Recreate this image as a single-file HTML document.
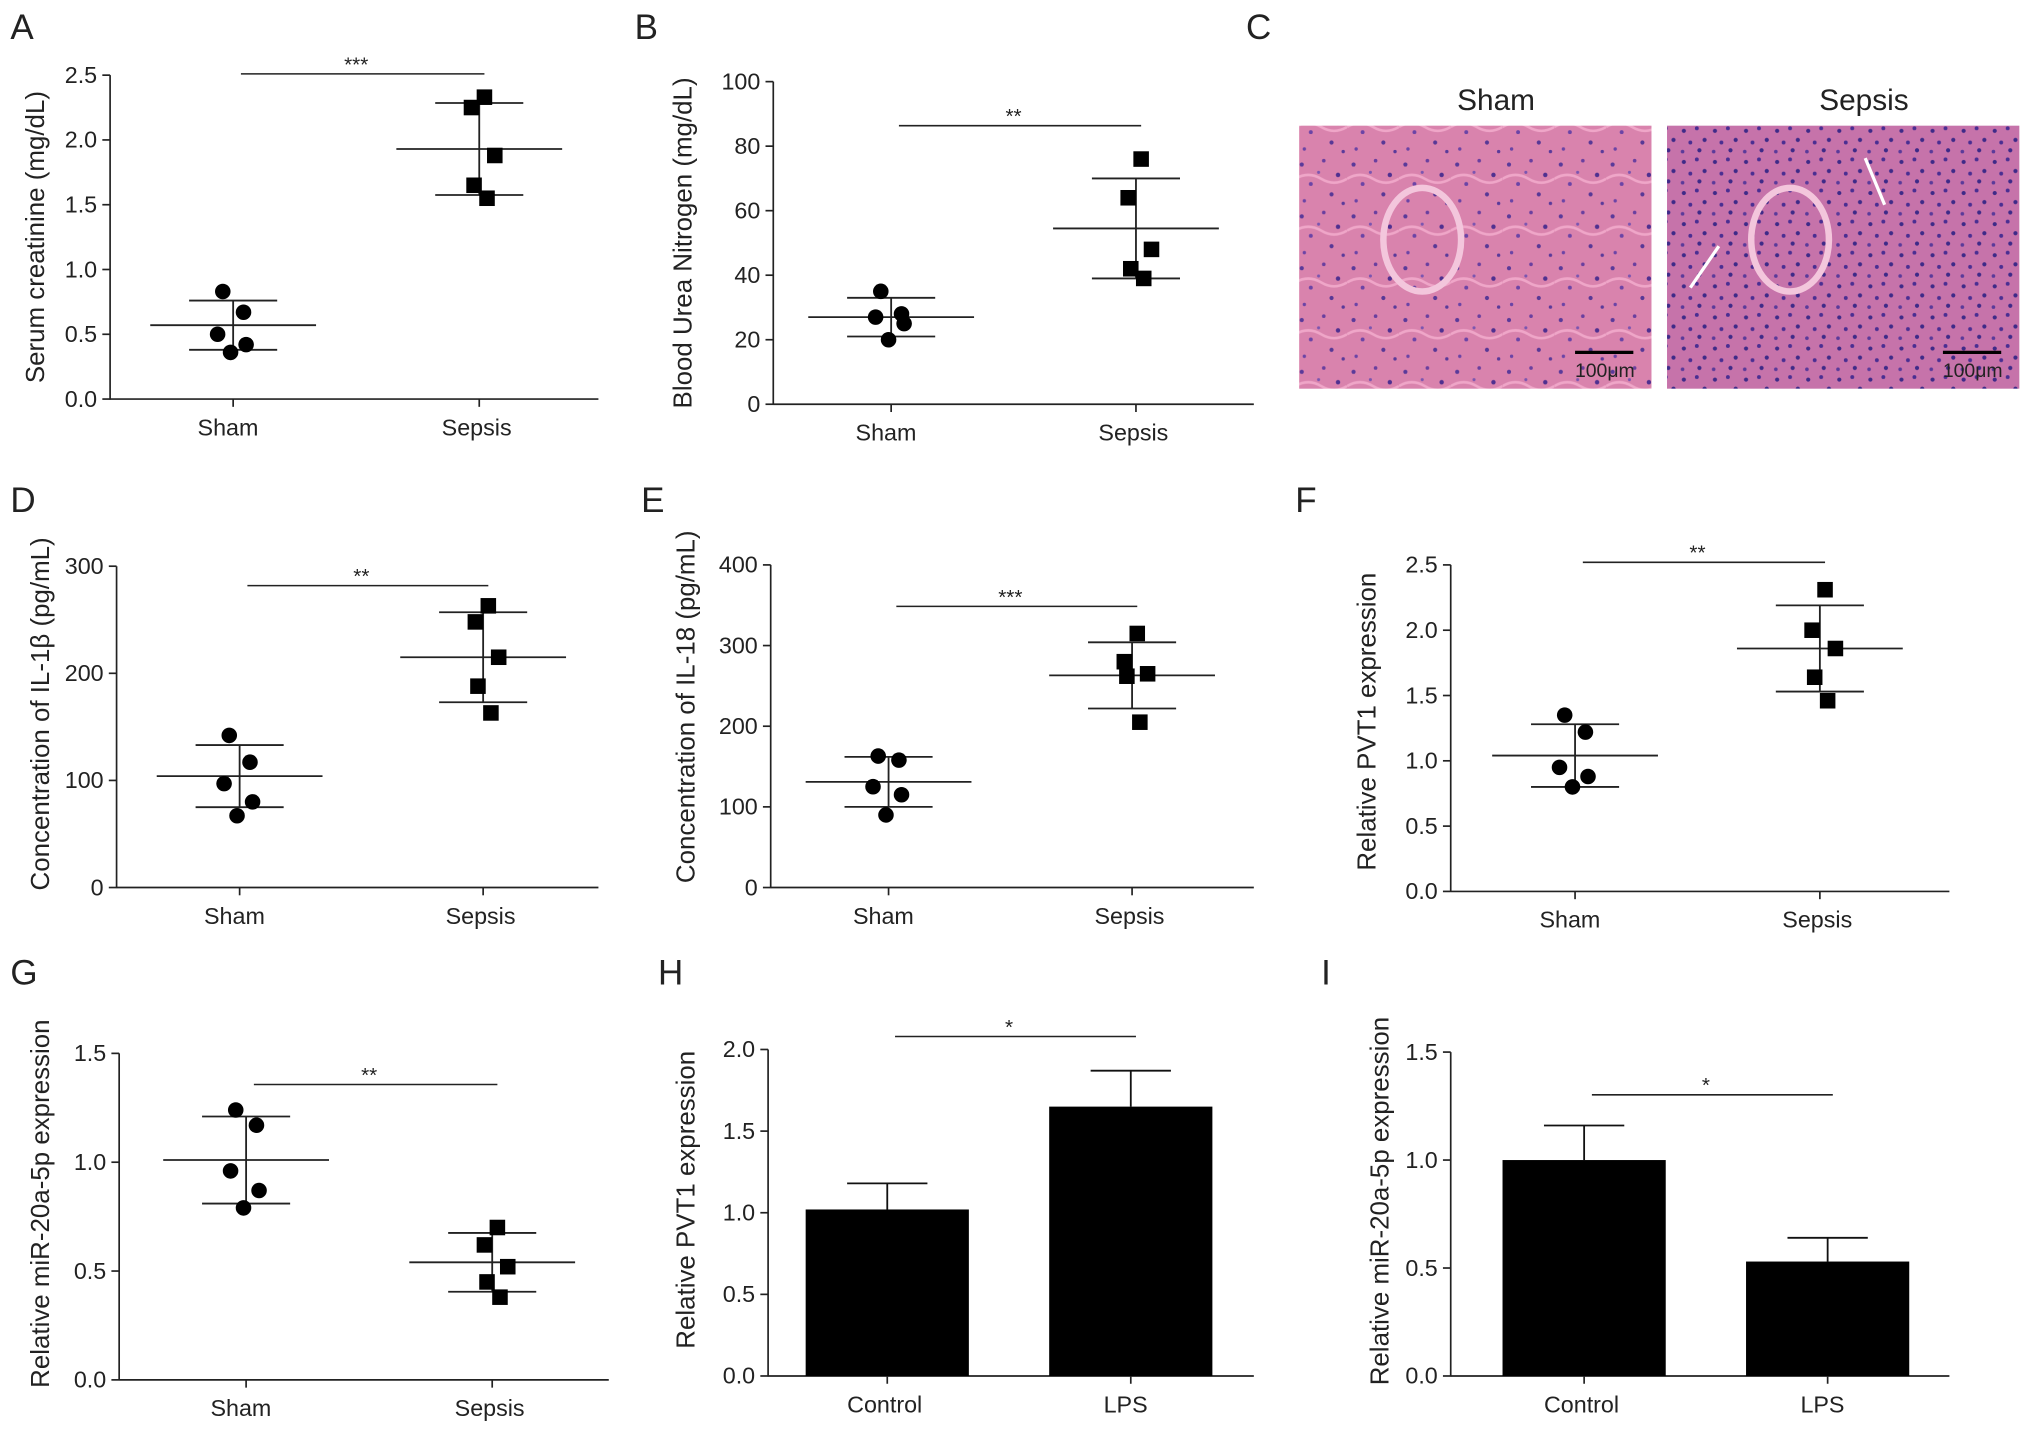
<!DOCTYPE html>
<html><head><meta charset="utf-8"><style>
body{margin:0;background:#fff}
svg{display:block}
text{font-family:"Liberation Sans",sans-serif;fill:#222}
</style></head><body>
<svg id="fig" width="2031" height="1433" viewBox="0 0 1568 1106" preserveAspectRatio="none" xmlns="http://www.w3.org/2000/svg">
<defs>
<pattern id="tissue" width="40" height="40" patternUnits="userSpaceOnUse">
<rect width="40" height="40" fill="#d983ad"/>
<circle cx="5" cy="7" r="1.6" fill="#5a3a9a"/><circle cx="22" cy="4" r="1.4" fill="#6a3f9f"/>
<circle cx="33" cy="15" r="1.7" fill="#4f3090"/><circle cx="12" cy="22" r="1.5" fill="#6b44a6"/>
<circle cx="28" cy="30" r="1.6" fill="#583896"/><circle cx="7" cy="35" r="1.3" fill="#6b44a6"/>
<circle cx="18" cy="13" r="1.2" fill="#7b55b0"/><circle cx="37" cy="37" r="1.3" fill="#5a3a9a"/>
<path d="M0 18 Q10 12 20 18 T40 18" stroke="#efa6c8" stroke-width="2" fill="none"/>
</pattern>
<pattern id="tissue2" width="24" height="24" patternUnits="userSpaceOnUse">
<rect width="24" height="24" fill="#c673aa"/>
<circle cx="4" cy="5" r="1.6" fill="#3e2a88"/><circle cx="14" cy="3" r="1.5" fill="#4a2e92"/>
<circle cx="20" cy="12" r="1.6" fill="#3e2a88"/><circle cx="9" cy="14" r="1.5" fill="#4a2e92"/>
<circle cx="16" cy="20" r="1.6" fill="#3e2a88"/><circle cx="3" cy="21" r="1.4" fill="#5a3a9a"/>
</pattern>
</defs>
<g id="root"></g>
</svg>
<script>
// ---- data ----
const groupsDots=["Sham","Sepsis"];
const groupsBars=["Control","LPS"];
const aSham=[0.83,0.67,0.50,0.42,0.36], aSepsis=[2.33,2.25,1.88,1.65,1.55];
const aMean=[0.57,1.93], aSD=[0.19,0.355];
const bSham=[35,28,27,25,20], bSepsis=[76,64,48,42,39];
const bMean=[27,54.5], bSD=[6,15.5];
const dSham=[142,117,97,80,67], dSepsis=[263,248,215,188,163];
const dMean=[104,215], dSD=[29,42];
const eSham=[163,158,125,115,90], eSepsis=[315,280,265,262,205];
const eMean=[131,263], eSD=[31,41];
const fSham=[1.35,1.22,0.95,0.88,0.80], fSepsis=[2.31,2.00,1.86,1.64,1.46];
const fMean=[1.04,1.86], fSD=[0.24,0.33];
const gSham=[1.24,1.17,0.96,0.87,0.79], gSepsis=[0.70,0.62,0.52,0.45,0.38];
const gMean=[1.01,0.54], gSD=[0.20,0.135];
const hValues=[1.02,1.65], hErr=[0.16,0.22];
const iValues=[1.00,0.53], iErr=[0.16,0.11];
const ticksA=["0.0","0.5","1.0","1.5","2.0","2.5"];
const ticksB=["0","20","40","60","80","100"];
const ticksD=["0","100","200","300"];
const ticksE=["0","100","200","300","400"];
const ticksF=["0.0","0.5","1.0","1.5","2.0","2.5"];
const ticksG=["0.0","0.5","1.0","1.5"];
const ticksH=["0.0","0.5","1.0","1.5","2.0"];
const ticksI=["0.0","0.5","1.0","1.5"];

const NS="http://www.w3.org/2000/svg";
const root=document.getElementById('root');
function el(tag,attrs,parent,txt){const e=document.createElementNS(NS,tag);for(const k in attrs)e.setAttribute(k,attrs[k]);if(txt!==undefined)e.textContent=txt;(parent||root).appendChild(e);return e;}
const jitter=[[-8,8,-12,10,-2],[4,-6,12,-4,6]];

function axes(g,cfg,ticks){
  const max=parseFloat(ticks[ticks.length-1]);
  const y=v=>cfg.y0-(v/max)*(cfg.y0-cfg.y1);
  const ax=el('g',{},g);
  
  
  el('line',{x1:cfg.x0,y1:cfg.y1,x2:cfg.x0,y2:cfg.y0+0.5,stroke:'#222','stroke-width':1.3},ax);
  ticks.forEach(t=>{const yy=y(parseFloat(t));
    el('line',{x1:cfg.x0-6,y1:yy,x2:cfg.x0,y2:yy,stroke:'#222','stroke-width':1.3},ax);
    const tl=el('text',{x:cfg.x0-10,y:yy+6,'text-anchor':'end','font-size':18},ax,t);
    
    
  });
  const xa=el('line',{x1:cfg.x0,y1:cfg.y0,x2:cfg.x2,y2:cfg.y0,stroke:'#222','stroke-width':1.3},g);
  
  
  const t=el('text',{transform:`translate(${cfg.tx-6},${(cfg.y0+cfg.y1)/2+cfg.toff}) rotate(-90)`,'text-anchor':'middle','font-size':20},g,cfg.title);
  
  
  const L=el('text',{x:cfg.lx,y:cfg.ly,'font-size':27},g,cfg.letter);
  
  
  return y;
}
function cats(g,cfg,names){
  names.forEach((n,i)=>{
    el('line',{x1:cfg.cx[i],y1:cfg.y0,x2:cfg.cx[i],y2:cfg.y0+6,stroke:'#222','stroke-width':1.3},g);
    const t=el('text',{x:cfg.cx[i]-(n.length>5?2:4),y:cfg.y0+28,'text-anchor':'middle','font-size':18},g,n);
    
    
  });
}
function sig(g,cfg,y,s){
  const l=el('line',{x1:cfg.cx[0]+6,y1:y,x2:cfg.cx[1]+4,y2:y,stroke:'#222','stroke-width':1.2},g);
  
  
  const t=el('text',{x:(cfg.cx[0]+cfg.cx[1])/2,y:y-2,'text-anchor':'middle','font-size':16},g,s);
  
  
}
function dotPanel(name,cfg,ticks,sham,sepsis,mean,sd,sigY,stars){
  const g=el('g',{});
  
  
  const y=axes(g,cfg,ticks);
  cats(g,cfg,groupsDots);
  [sham,sepsis].forEach((arr,gi)=>{
    const cx=cfg.cx[gi];
    const m=el('line',{x1:cx-64,y1:y(mean[gi]),x2:cx+64,y2:y(mean[gi]),stroke:'#222','stroke-width':1.4},g);
    
    
    [mean[gi]-sd[gi],mean[gi]+sd[gi]].forEach(v=>el('line',{x1:cx-34,y1:y(v),x2:cx+34,y2:y(v),stroke:'#222','stroke-width':1.4},g));
    el('line',{x1:cx,y1:y(mean[gi]-sd[gi]),x2:cx,y2:y(mean[gi]+sd[gi]),stroke:'#222','stroke-width':1.4},g);
    arr.forEach((v,i)=>{
      const px=cx+jitter[gi][i];
      let p;
      if(gi===0)p=el('circle',{cx:px,cy:y(v),r:6,fill:'#000'},g);
      else p=el('rect',{x:px-6,y:y(v)-6,width:12,height:12,fill:'#000'},g);
      
      
    });
  });
  sig(g,cfg,sigY,stars);
}
function barPanel(name,cfg,ticks,vals,errs,sigY,stars){
  const g=el('g',{});
  
  
  const y=axes(g,cfg,ticks);
  vals.forEach((v,i)=>{
    const cx=cfg.cx[i];
    el('line',{x1:cx,y1:y(v),x2:cx,y2:y(v+errs[i]),stroke:'#111','stroke-width':1.4},g);
    el('line',{x1:cx-31,y1:y(v+errs[i]),x2:cx+31,y2:y(v+errs[i]),stroke:'#111','stroke-width':1.4},g);
    const b=el('rect',{x:cx-63,y:y(v),width:126,height:cfg.y0-y(v),fill:'#000'},g);
    
    
  });
  cats(g,cfg,groupsBars);
  sig(g,cfg,sigY,stars);
}
dotPanel('panel-a',{x0:85,y0:308,y1:58,x2:462,cx:[180,370],tx:40,toff:0,title:'Serum creatinine (mg/dL)',letter:'A',lx:8,ly:30},ticksA,aSham,aSepsis,aMean,aSD,57,'***');
dotPanel('panel-b',{x0:597,y0:312,y1:63,x2:968,cx:[688,877],tx:540,toff:0,title:'Blood Urea Nitrogen (mg/dL)',letter:'B',lx:490,ly:30},ticksB,bSham,bSepsis,bMean,bSD,97,'**');
dotPanel('panel-d',{x0:90,y0:685,y1:437,x2:462,cx:[185,373],tx:44,toff:-10,title:'Concentration of IL-1β (pg/mL)',letter:'D',lx:8,ly:395},ticksD,dSham,dSepsis,dMean,dSD,452,'**');
dotPanel('panel-e',{x0:595,y0:685,y1:436,x2:968,cx:[686,874],tx:542,toff:-15,title:'Concentration of IL-18 (pg/mL)',letter:'E',lx:495,ly:395},ticksE,eSham,eSepsis,eMean,eSD,468,'***');
dotPanel('panel-f',{x0:1120,y0:688,y1:436,x2:1505,cx:[1216,1405],tx:1068,toff:-5,title:'Relative PVT1 expression',letter:'F',lx:1000,ly:395},ticksF,fSham,fSepsis,fMean,fSD,434,'**');
dotPanel('panel-g',{x0:92,y0:1065,y1:813,x2:470,cx:[190,380],tx:44,toff:-10,title:'Relative miR-20a-5p expression',letter:'G',lx:8,ly:760},ticksG,gSham,gSepsis,gMean,gSD,837,'**');
barPanel('panel-h',{x0:593,y0:1062,y1:810,x2:968,cx:[685,873],tx:542,toff:-10,title:'Relative PVT1 expression',letter:'H',lx:508,ly:760},ticksH,hValues,hErr,800,'*');
barPanel('panel-i',{x0:1120,y0:1062,y1:812,x2:1505,cx:[1223,1411],tx:1078,toff:-10,title:'Relative miR-20a-5p expression',letter:'I',lx:1020,ly:760},ticksI,iValues,iErr,845,'*');

// panel C histology
const gc=el('g',{});


const lc=el('text',{x:962,y:30,'font-size':27},gc,'C');


[["Sham",1003,'url(#tissue)'],["Sepsis",1287,'url(#tissue2)']].forEach(([n,x,f])=>{
  const im=el('rect',{x:x,y:97,width:272,height:203,fill:f},gc);
  
  
  el('ellipse',{cx:x+95,cy:185,rx:30,ry:40,fill:'none',stroke:'#f3c6dc','stroke-width':5},gc);
  const t=el('text',{x:x+152,y:85,'text-anchor':'middle','font-size':23},gc,n);
  
  
  el('line',{x1:x+213,y1:272,x2:x+258,y2:272,stroke:'#000','stroke-width':2.5},gc);
  const s=el('text',{x:x+236,y:291,'text-anchor':'middle','font-size':15},gc,'100μm');
  
  
});
el('line',{x1:1305,y1:222,x2:1327,y2:190,stroke:'#fff','stroke-width':2.5},gc);
el('line',{x1:1440,y1:122,x2:1455,y2:158,stroke:'#fff','stroke-width':2.5},gc);
</script>
</body></html>
